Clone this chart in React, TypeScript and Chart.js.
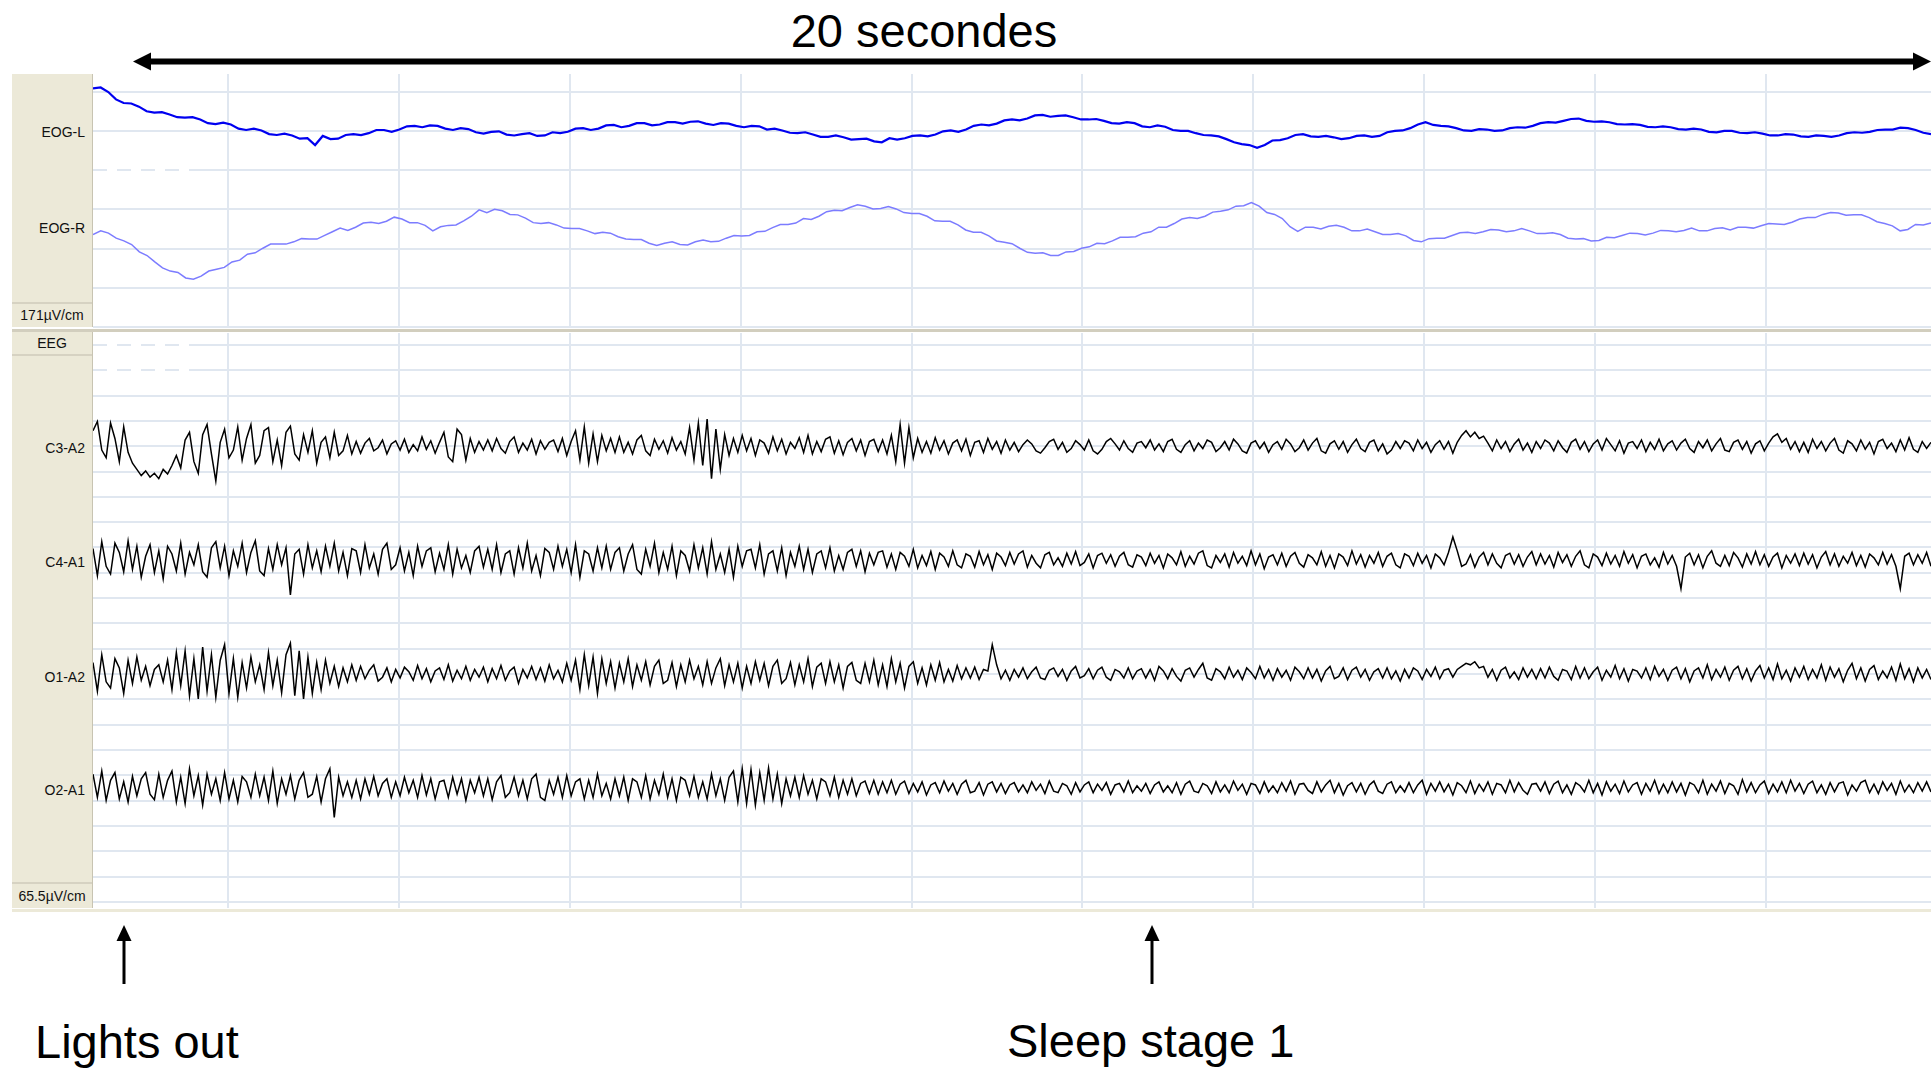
import React, { useEffect, useRef } from "react";
import { Chart, registerables } from "chart.js";

Chart.register(...registerables);

// ---- time axis (seconds) ----
const T_START = 0.42;
const T_END = 21.93;
const SECOND_TICKS = [2, 4, 6, 8, 10, 12, 14, 16, 18, 20];

// ---- EOG montage (µV, positive up) ----
const EOG_LABELS = ["EOG-L", "EOG-R"];
const EOG_SCALE_LABEL = "171µV/cm";
const EOG_UV_PER_DIV = 85.5;

const EOG_L = [
  94, 96, 86, 70, 62, 61, 54, 44, 41, 42, 37, 31, 30, 31, 26, 18, 16, 19, 15, 6,
  3, 6, 2, -6, -8, -5, -9, -16, -15, -30, -10, -17, -16, -8, -6, -8, -4, 3, 3, -1,
  4, 11, 12, 9, 13, 12, 6, 3, 7, 5, -2, -5, -1, 0, -7, -9, -6, -4, -10, -9,
  -2, -4, -1, 6, 7, 3, 6, 13, 14, 9, 12, 18, 18, 13, 15, 20, 20, 17, 21, 22,
  17, 14, 18, 17, 12, 9, 12, 11, 4, 6, 2, -3, -4, -2, -7, -12, -12, -9, -13, -18,
  -17, -16, -22, -24, -15, -18, -15, -10, -9, -11, -7, 0, 2, -1, 4, 12, 15, 13, 17, 24,
  26, 24, 28, 35, 36, 32, 34, 35, 31, 26, 26, 27, 23, 18, 17, 20, 18, 11, 9, 13,
  10, 3, 1, 1, -4, -8, -9, -11, -17, -24, -28, -30, -36, -30, -20, -19, -15, -8, -6, -11,
  -12, -10, -13, -17, -15, -10, -9, -12, -10, -2, 1, 2, 7, 15, 20, 14, 12, 11, 7, 2,
  1, 5, 4, 1, 2, 7, 9, 8, 12, 18, 20, 19, 23, 27, 28, 23, 21, 22, 20, 16,
  15, 16, 14, 10, 9, 11, 9, 5, 4, 6, 4, -1, -2, 1, 1, -3, -4, -2, -5, -9,
  -9, -6, -7, -11, -12, -9, -10, -12, -9, -4, -2, -3, -1, 3, 4, 4, 8, 7, 3, -3,
  -6,
];

const EOG_R = [
  -12, -4, -9, -20, -26, -34, -50, -58, -72, -85, -92, -95, -107, -110, -103, -92, -88, -84, -72, -68,
  -55, -52, -42, -33, -33, -33, -28, -21, -22, -22, -14, -6, 2, -3, 4, 13, 15, 12, 17, 26,
  22, 14, 14, 8, -4, 5, 8, 9, 18, 28, 42, 36, 43, 40, 32, 31, 24, 14, 12, 14,
  9, 2, 1, 1, -4, -10, -7, -9, -17, -22, -23, -23, -31, -36, -31, -28, -34, -35, -28, -24,
  -28, -27, -20, -14, -15, -14, -6, -5, 3, 10, 10, 13, 23, 21, 28, 38, 41, 40, 47, 53,
  50, 44, 45, 49, 44, 36, 34, 34, 28, 18, 17, 17, 9, -2, -7, -7, -15, -26, -29, -32,
  -42, -51, -53, -52, -58, -58, -50, -49, -42, -39, -31, -32, -26, -18, -18, -17, -9, -6, 4, 4,
  12, 22, 25, 23, 28, 37, 39, 42, 50, 51, 58, 50, 36, 32, 23, 5, -5, 4, 4, 0,
  6, 8, 4, -4, -4, 0, -6, -12, -12, -10, -15, -25, -28, -21, -20, -20, -14, -8, -7, -10,
  -6, -1, -2, -6, -4, 1, -4, -10, -10, -8, -12, -20, -22, -21, -26, -25, -18, -19, -14, -9,
  -10, -13, -9, -3, -4, -6, -3, 2, -4, -4, 1, 3, -2, 4, 4, 2, 7, 12, 11, 10,
  15, 22, 25, 25, 32, 36, 35, 30, 31, 31, 25, 16, 12, 7, -4, -1, 10, 9, 13,
];

// ---- EEG montage (µV, positive up) ----
const EEG_HEADER = "EEG";
const EEG_LABELS = ["C3-A2", "C4-A1", "O1-A2", "O2-A1"];
const EEG_SCALE_LABEL = "65.5µV/cm";
const EEG_UV_PER_DIV = 32.75;

const C3_A2 = [
  20, 32, -5, -15, 30, 10, -20, 25, -8, -22, -30, -38, -32, -40, -35, -42, -30, -36, -25, -12, -28, 8, 18, -20, -35, 15, 28, -10, -45, 5,
  22, -15, -5, 25, -18, 10, 28, -22, -12, 20, 24, -20, 8, -25, 18, 26, -10, -18, 15, -8, 20, -22, 5, 12, -15, 18, -12, -6, 14, -10,
  6, -9, 4, 10, -6, -2, 8, -10, 3, 7, -5, 9, -8, 2, -6, 12, -4, 7, -9, 5, 18, -14, -20, 22, 15, -18, 10, -8, 6, -5,
  8, -6, 10, -3, -9, 6, 12, -8, 4, -5, 9, -10, 7, -4, 5, 8, -7, 10, -12, 6, 20, -18, 25, -22, 16, -20, 14, -6, 10, -8,
  12, -8, 5, -10, 8, 14, -6, -12, 9, -4, 7, -9, 11, -5, 6, -10, 24, -18, 30, -25, 35, -42, 22, -30, 15, -12, 10, -8, 14, -6,
  10, -12, 8, 4, -9, 12, -6, 9, -10, 5, -3, 11, -8, 14, -10, 6, -7, 9, 12, -9, 7, -11, 5, 10, -6, 8, -12, 6, 9, -7,
  8, -10, 14, -20, 28, -22, 24, -15, 10, -8, 6, -9, 11, -5, 7, -10, 4, 8, -6, 9, -12, 5, 7, -8, 10, -4, 6, -9, 8, -5,
  5, -7, 2, 8, 3, -6, -9, -2, 6, 9, -4, 5, -8, -3, 7, 2, -5, 8, -6, -10, -4, 6, 10, 3, -5, 7, -3, -8, 4, 6,
  -2, 8, -5, 3, -7, 6, 9, -4, -8, 2, 7, -6, 4, -3, 8, 5, -7, -2, 6, -5, 9, 3, -6, -9, 4, 7, -3, 5, -8, 2,
  6, -4, 9, 3, -7, -2, 8, -5, 4, 10, -6, -9, 3, 7, -4, 6, -8, 2, 9, -3, -7, 5, 8, -6, 3, -10, -5, 6, -3, 7,
  4, -6, 8, -3, 5, -8, 2, 7, -4, 6, -9, 5, 14, 20, 12, 18, 10, 13, 4, -6, 8, -3, 6, -7, 3, 9, -5, 4, -8, 6,
  -3, 8, 4, -6, 7, -2, -8, 5, 9, -4, 6, -7, 3, 8, -5, 10, 2, -6, 7, -9, 4, 6, -3, 8, -7, 5, -4, 9, -6, 3,
  7, -5, 4, 9, -3, -8, 6, -2, 8, -6, 3, 10, -5, -7, 5, 8, -4, 6, -9, 3, 7, -6, 4, 12, 16, 5, 10, -4, 6, -7,
  5, -8, 9, -3, 6, -6, 4, 10, -5, -9, 7, 3, -6, 8, -4, 5, -10, 6, 9, -3, 4, -7, 8, -5, 11, -4, -8, 6, -3, 5,
];

const C4_A1 = [
  15, -20, 24, -8, -18, 22, 10, -15, 25, -12, 18, -22, 5, 20, -16, 12, -24, 18, 8, -14, 22, -18, 10, -6, 20, -15, -22, 16, 24, -10,
  18, -20, 12, -8, 22, -16, 10, 25, -14, -20, 15, -12, 20, -6, 16, -45, 8, 14, -18, 20, -10, 12, -15, 18, -8, 22, -14, 10, -20, 15,
  12, -16, 20, -10, 8, -18, 14, 22, -12, -6, 16, -14, 10, -20, 18, -8, 12, 16, -15, 9, -12, 20, -18, 14, -10, 6, -16, 12, 18, -9,
  14, -12, 20, -16, 8, 12, -18, 16, -10, 22, -14, 6, -20, 15, 10, -12, 18, -8, 14, -16, 20, -22, 12, 8, -14, 16, -10, 18, -12, 10,
  16, -14, 8, 20, -12, -18, 14, -8, 22, -16, 10, -12, 18, -20, 12, 6, -14, 20, -10, 16, -18, 24, -12, 8, -16, 14, -22, 18, -8, 12,
  14, -10, 20, -18, 8, 12, -14, 16, -20, 10, -8, 18, -12, 14, -16, 8, 12, -10, 16, -14, 6, -12, 10, 14, -8, 12, -15, 9, -6, 10,
  12, -9, 8, -12, 10, 5, -8, 14, -10, 6, -7, 11, -12, 9, 4, -8, 12, -6, -10, 8, 5, -9, 11, -6, 7, -12, 9, 4, -7, 10,
  -5, 8, 12, -9, 6, -4, -10, 7, 10, -6, 3, -8, 9, -5, 11, -7, -3, 8, -10, 6, 9, -4, 7, -8, 5, 10, -6, -9, 7, 4,
  -7, 9, -4, 6, -10, 8, 3, -6, 11, -8, 5, -5, 9, 12, -7, -10, 6, -3, 8, -9, 10, -4, 5, -7, 12, -6, 8, -11, 4, 7,
  -6, 9, -8, 5, 10, -4, -9, 7, 3, -6, 11, -8, 6, -10, 8, 4, -7, 12, -5, 7, -9, 6, -4, 10, -8, 5, 9, -6, -10, 8,
  5, -7, 9, -4, 6, -10, 8, 3, -6, 10, 30, 12, -8, -5, 7, -9, 4, 10, -6, 8, -4, -10, 6, 9, -5, 7, -8, 4, 11, -6,
  8, -5, 6, -9, 10, -3, 7, -8, 5, 12, -6, -10, 8, 4, -7, 9, -5, 6, -8, 11, -4, 7, -10, 5, 8, -6, 3, -9, 10, -5,
  6, -8, -37, 4, 9, -6, 7, -10, 5, 12, -4, -8, 6, -7, 10, 3, -9, 8, -5, 11, -6, 7, -8, 4, 9, -10, 6, -4, 8, -7,
  9, -5, 7, -10, 4, 11, -6, 8, -8, 5, -4, 10, -7, 6, -9, 8, 3, -6, 10, -5, 7, -8, -37, 5, 9, -6, 7, -4, 10, -8,
];

const O1_A2 = [
  15, -22, 25, -10, -18, 20, 8, -25, 18, -12, 22, -8, 10, -15, 6, 12, -10, 18, -20, 28, -15, 30, -28, 20, -32, 35, -22, 25, -30, 18,
  38, -25, 20, -30, 15, -18, 22, -10, 12, -20, 28, -15, 18, -24, 25, 40, -28, 30, -32, 22, -25, 15, -20, 18, -12, 10, -16, 8, -10, 12,
  -8, 10, -6, 5, 12, -9, -4, 8, -10, 6, -5, 9, 3, -8, 11, -6, 7, -10, 4, 8, -7, 12, -9, 5, -6, 10, -8, 6, -4, 9,
  -10, 7, -6, 11, -8, 4, 9, -12, 6, -5, 10, -7, 8, -9, 12, -6, 5, -10, 14, -8, 18, -20, 25, -15, 22, -25, 20, -12, 16, -18,
  14, -10, 20, -16, 12, -8, 16, -14, 10, 18, -12, -8, 15, -16, 12, -10, 18, -6, 10, -14, 16, -12, 8, 20, -15, 12, -10, 14, -18, 10,
  -12, 16, -8, 14, -15, 10, 18, -12, -6, 15, -14, 12, -10, 20, -16, 9, 14, -12, 16, -10, 12, -18, 10, 15, -8, -12, 14, -10, 18, -14,
  12, -16, 20, -10, 14, -18, 10, 16, -12, 8, -14, 12, -8, 15, -10, 6, -9, 11, -6, 8, -5, 9, -7, 6, 4, 38, 12, -6, 5, -8,
  6, -4, 8, -6, 3, 9, -5, -7, 5, 8, -3, 6, -8, 4, 10, -5, -2, 7, -6, 5, 9, -4, -8, 6, 3, -5, 8, -6, 4, 7,
  -5, 6, -8, 10, 4, -6, 7, -3, -9, 5, 8, -4, 6, 14, -5, -8, 7, 3, -6, 9, -4, 5, -7, 8, 2, -6, 10, -5, 6, -8,
  7, -4, 5, -8, 9, 3, -6, 8, -5, 6, -9, 4, 10, -6, -3, 8, -7, 5, 9, -4, 6, -8, 3, 7, -5, 8, -6, 4, -9, 6,
  -5, 8, 4, -7, 6, -3, 9, -6, 5, 7, -4, 6, 10, 14, 12, 16, 8, 10, -4, 6, -8, 5, 9, -5, 3, -7, 8, -4, 6, -6,
  7, -5, 9, -3, -8, 6, 4, -7, 10, -5, 8, -6, 3, 9, -8, 5, -4, 11, -6, 7, -9, 6, 4, -5, 8, -7, 10, -3, 6, -8,
  5, 9, -6, 7, -10, 4, 8, -5, 12, -7, 6, -4, 9, -8, 5, 10, -6, 7, -9, 4, 11, -5, 8, -7, 13, -6, 5, -9, 8, -4,
  10, -7, 6, -5, 12, -8, 9, -4, 7, -10, 5, 14, -6, 8, -9, 6, 11, -7, 4, -5, 9, -8, 13, -6, 7, -10, 8, -5, 6, -7,
];

const O2_A1 = [
  18, -12, 22, -16, 10, 20, -14, 8, -18, 15, -10, 12, 20, -8, -15, 18, -12, 10, 22, -18, 14, -20, 25, -10, 16, -22, 18, -8, 12, -16,
  20, -14, 10, -18, 15, 8, -12, 18, -10, 14, -16, 22, -20, 12, -8, 16, -14, 10, 20, -12, -8, 15, -18, 12, 25, -38, 14, -10, 8, -12,
  10, -14, 12, -8, 15, -10, 6, 12, -12, 8, -10, 14, -6, 10, -12, 16, -9, 12, -14, 8, 10, -12, 14, -8, 12, -16, 10, -6, 14, -10,
  12, -15, 8, 16, -12, -6, 14, -10, 10, -14, 12, 18, -12, -16, 10, -8, 14, -12, 16, -10, 8, 12, -14, 10, -12, 18, -10, 6, -14, 12,
  -10, 14, -16, 12, 8, -12, 16, -14, 10, -8, 18, -12, 12, -16, 14, 10, -10, 15, -12, 8, -14, 18, -10, 12, -16, 14, 22, -18, 25, -20,
  24, -22, 20, -16, 26, -14, 18, -20, 12, -10, 14, -12, 16, -8, 10, -14, 12, 8, -10, 14, -12, 10, -8, 12, -10, 6, 9, -7, 10, -8,
  8, -6, 10, -8, 5, 9, -7, 6, -5, 8, -9, 4, 7, -6, 9, -4, 6, -8, 5, 10, -6, -4, 7, -9, 5, 8, -5, 6, -7, 4,
  7, -5, 4, -6, 8, -3, 5, -7, 9, -4, -6, 6, 3, -8, 7, -5, 4, 8, -6, 5, -3, 7, -8, 4, 6, -5, 9, -6, 3, -4,
  6, -7, 4, 8, -5, 3, -6, 7, -8, 5, 9, -4, -6, 6, 3, -7, 8, -5, 4, -6, 9, -3, 5, -8, 6, 4, -7, 8, -5, 3,
  -6, 7, -4, 9, -8, 5, 6, -3, -7, 8, -5, 4, 10, -6, 6, -9, 3, 7, -5, 6, -8, 4, 9, -4, -7, 5, 8, -6, 3, -5,
  7, -6, 4, 10, -8, 6, -4, 8, -5, 5, -9, 7, 3, -6, 9, -7, 5, -4, 8, -8, 6, 4, -6, 10, -5, 7, -3, -8, 5, 6,
  -4, 8, -7, 5, 9, -6, 4, -8, 7, 3, -5, 10, -6, 6, -9, 8, -4, 5, -7, 9, -5, 4, 7, -8, 6, -4, 10, -7, 5, -6,
  8, -5, 6, -9, 7, 4, -6, 10, -8, 5, -4, 9, -7, 6, 3, -8, 11, -5, 7, -6, 4, 9, -7, 5, -5, 8, -6, 10, -4, 6,
  -7, 5, 9, -6, 4, -8, 7, -5, 6, 8, -9, 4, -4, 7, 10, -6, 5, -7, 8, -3, 6, -8, 9, -5, 4, -6, 7, -4, 8, -5,
];

// ---- annotations ----
const TITLE = "20 secondes";
const MARKER_LEFT = "Lights out";
const MARKER_RIGHT = "Sleep stage 1";

// ---- styling / layout ----
const GRID = "#E0E7F0";
const PANEL = "#ECE9D8";
const PANEL_LINE = "#D6D2C2";
const FONT = '"Liberation Sans", Arial, sans-serif';

function toPoints(values: number[], offset: number, uvPerDiv: number) {
  const n = values.length;
  return values.map((v, i) => ({
    x: T_START + (i * (T_END - T_START)) / (n - 1),
    y: offset + v / uvPerDiv,
  }));
}

type Trace = { label: string; values: number[]; offset: number; color: string; width: number };

function makeChart(
  canvas: HTMLCanvasElement,
  traces: Trace[],
  uvPerDiv: number,
  yMin: number,
  yMax: number,
  rows: number[],
  brokenRows: number[]
) {
  // the first rows of each montage show small white gaps near the left edge
  const gapPlugin = {
    id: "rowGaps",
    beforeDatasetsDraw(chart: any) {
      const { ctx, chartArea, scales } = chart;
      ctx.save();
      ctx.strokeStyle = "#ffffff";
      ctx.lineWidth = 3;
      ctx.setLineDash([10, 14]);
      brokenRows.forEach((v) => {
        const y = scales.y.getPixelForValue(v);
        ctx.beginPath();
        ctx.moveTo(chartArea.left + 14, y);
        ctx.lineTo(chartArea.left + 100, y);
        ctx.stroke();
      });
      ctx.restore();
    },
  };
  return new Chart(canvas, {
    type: "line",
    data: {
      datasets: traces.map((t) => ({
        label: t.label,
        data: toPoints(t.values, t.offset, uvPerDiv),
        borderColor: t.color,
        borderWidth: t.width,
        pointRadius: 0,
        tension: 0,
        fill: false,
      })),
    },
    options: {
      animation: false,
      responsive: false,
      maintainAspectRatio: false,
      devicePixelRatio: 1,
      events: [],
      layout: { padding: 0 },
      plugins: { legend: { display: false }, tooltip: { enabled: false } },
      scales: {
        x: {
          type: "linear",
          min: T_START,
          max: T_END,
          ticks: { display: false },
          grid: { color: GRID, lineWidth: 2, drawTicks: false },
          border: { display: false },
          afterBuildTicks: (s: any) => {
            s.ticks = SECOND_TICKS.map((v) => ({ value: v }));
          },
        },
        y: {
          type: "linear",
          min: yMin,
          max: yMax,
          ticks: { display: false },
          grid: { color: GRID, lineWidth: 2, drawTicks: false },
          border: { display: false },
          afterBuildTicks: (s: any) => {
            s.ticks = rows.map((v) => ({ value: v }));
          },
        },
      },
    },
    plugins: [gapPlugin],
  } as any);
}

const abs = (o: React.CSSProperties): React.CSSProperties => ({ position: "absolute", ...o });

export default function App() {
  const eogRef = useRef<HTMLCanvasElement>(null);
  const eegRef = useRef<HTMLCanvasElement>(null);

  useEffect(() => {
    const eog = makeChart(
      eogRef.current!,
      [
        { label: EOG_LABELS[0], values: EOG_L, offset: 5, color: "#0000F0", width: 2.2 },
        { label: EOG_LABELS[1], values: EOG_R, offset: 2.5, color: "#7C7CFF", width: 1.5 },
      ],
      EOG_UV_PER_DIV,
      -0.033,
      6.468,
      [0, 1, 2, 3, 4, 5, 6],
      [4]
    );
    const eeg = makeChart(
      eegRef.current!,
      [
        { label: EEG_LABELS[0], values: C3_A2, offset: 18, color: "#000000", width: 1.5 },
        { label: EEG_LABELS[1], values: C4_A1, offset: 13.5, color: "#000000", width: 1.5 },
        { label: EEG_LABELS[2], values: O1_A2, offset: 9, color: "#000000", width: 1.5 },
        { label: EEG_LABELS[3], values: O2_A1, offset: 4.5, color: "#000000", width: 1.5 },
      ],
      EEG_UV_PER_DIV,
      -0.237,
      22.47,
      Array.from({ length: 23 }, (_, i) => i),
      [21, 22]
    );
    return () => {
      eog.destroy();
      eeg.destroy();
    };
  }, []);

  const chLabel = (text: string, y: number) => (
    <div
      key={text}
      style={abs({
        left: 12,
        top: y - 8,
        width: 73,
        height: 16,
        lineHeight: "16px",
        fontSize: 14,
        textAlign: "right",
        color: "#111",
        whiteSpace: "nowrap",
      })}
    >
      {text}
    </div>
  );

  const bigText: React.CSSProperties = {
    fontSize: 47,
    lineHeight: "47px",
    color: "#000",
    whiteSpace: "nowrap",
  };

  return (
    <div
      style={{
        position: "fixed",
        left: 0,
        top: 0,
        width: 1931,
        height: 1069,
        background: "#fff",
        overflow: "hidden",
        fontFamily: FONT,
      }}
    >
      {/* label panel */}
      <div style={abs({ left: 12, top: 74, width: 80, height: 253, background: PANEL, borderRight: "1px solid #C8C4B2" })} />
      <div style={abs({ left: 12, top: 332, width: 80, height: 576, background: PANEL, borderRight: "1px solid #C8C4B2" })} />
      <div style={abs({ left: 12, top: 329, width: 1919, height: 3, background: "#D2CEBE" })} />
      <div style={abs({ left: 12, top: 909, width: 1919, height: 3, background: PANEL })} />

      <canvas ref={eogRef} width={1838} height={254} style={abs({ left: 93, top: 74, width: 1838, height: 254 })} />
      <canvas ref={eegRef} width={1838} height={575} style={abs({ left: 93, top: 333, width: 1838, height: 575 })} />

      {chLabel(EOG_LABELS[0], 132)}
      {chLabel(EOG_LABELS[1], 228)}
      {chLabel(EEG_LABELS[0], 448)}
      {chLabel(EEG_LABELS[1], 562)}
      {chLabel(EEG_LABELS[2], 677)}
      {chLabel(EEG_LABELS[3], 790)}

      <div
        style={abs({
          left: 12, top: 302, width: 80, height: 23, borderTop: `2px solid ${PANEL_LINE}`,
          fontSize: 14, lineHeight: "23px", textAlign: "center", color: "#111", whiteSpace: "nowrap",
        })}
      >
        {EOG_SCALE_LABEL}
      </div>
      <div
        style={abs({
          left: 12, top: 333, width: 80, height: 21, borderBottom: `2px solid ${PANEL_LINE}`,
          fontSize: 14, lineHeight: "21px", textAlign: "center", color: "#111",
        })}
      >
        {EEG_HEADER}
      </div>
      <div
        style={abs({
          left: 12, top: 882, width: 80, height: 24, borderTop: `2px solid ${PANEL_LINE}`,
          fontSize: 14, lineHeight: "24px", textAlign: "center", color: "#111", whiteSpace: "nowrap",
        })}
      >
        {EEG_SCALE_LABEL}
      </div>

      {/* annotations */}
      <div style={abs({ ...bigText, left: 924, top: 7, transform: "translateX(-50%)" })}>{TITLE}</div>
      <div style={abs({ ...bigText, left: 35, top: 1018 })}>{MARKER_LEFT}</div>
      <div style={abs({ ...bigText, left: 1007, top: 1017 })}>{MARKER_RIGHT}</div>

      <svg width={1931} height={1069} style={abs({ left: 0, top: 0, pointerEvents: "none" })}>
        <line x1={148} y1={61.5} x2={1916} y2={61.5} stroke="#000" strokeWidth={6} />
        <polygon points="133,61.5 151,52.5 151,70.5" fill="#000" />
        <polygon points="1931,61.5 1913,52.5 1913,70.5" fill="#000" />
        <line x1={124} y1={938} x2={124} y2={984} stroke="#000" strokeWidth={3} />
        <polygon points="124,925 116.5,941 131.5,941" fill="#000" />
        <line x1={1152} y1={938} x2={1152} y2={984} stroke="#000" strokeWidth={3} />
        <polygon points="1152,925 1144.5,941 1159.5,941" fill="#000" />
      </svg>
    </div>
  );
}
